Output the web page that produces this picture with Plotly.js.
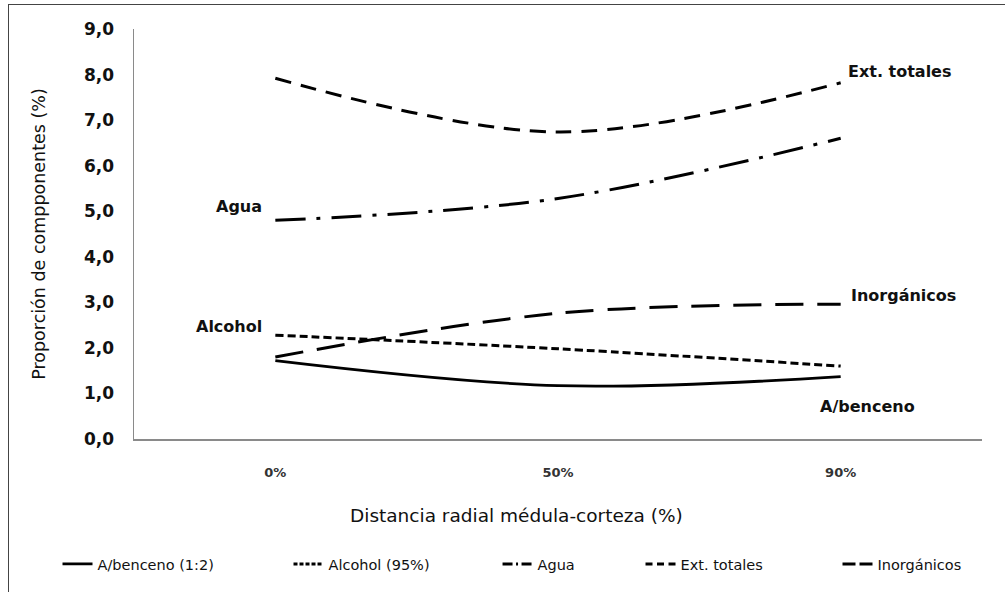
<!DOCTYPE html>
<html>
<head>
<meta charset="utf-8">
<script src="https://cdn.plot.ly/plotly-3.0.1.min.js"></script>
<style>
  html, body { margin: 0; padding: 0; background: #fff; }
  #wrap { position: relative; width: 1005px; height: 592px; overflow: hidden; }
  #chart { position: absolute; left: 0; top: 0; width: 1005px; height: 592px; }
  #frame { position: absolute; left: 8px; top: 4px; width: 1100px; height: 700px;
           border-left: 1.5px solid #444; border-top: 1.5px solid #444; pointer-events: none; }
</style>
</head>
<body>
<div id="wrap">
  <div id="chart"></div>
  <div id="frame"></div>
</div>
<script>
// ---- data ----
const categories = ["0%", "50%", "90%"];
const seriesNames = ["A/benceno (1:2)", "Alcohol (95%)", "Agua", "Ext. totales", "Inorgánicos"];
const aBenceno    = [1.72, 1.17, 1.37];
const alcohol     = [2.28, 1.98, 1.60];
const agua        = [4.80, 5.28, 6.60];
const extTotales  = [7.92, 6.74, 7.82];
const inorganicos = [1.80, 2.76, 2.96];
const labelTexts  = ["A/benceno", "Alcohol", "Agua", "Ext. totales", "Inorgánicos"];
const yTickVals   = [0, 1, 2, 3, 4, 5, 6, 7, 8, 9];
const xTitle = "Distancia radial médula-corteza (%)";
const yTitle = "Proporción de compponentes (%)";

// ---- styles ----
const values = [aBenceno, alcohol, agua, extTotales, inorganicos];
const dashes = ["solid", "8px,4px", "30px,11px,4px,11px", "16px,10px", "28px,14px"];
// legend swatches are only 30px long, so they use a compressed version of each pattern
const legendDashes = ["solid", "4px,2px", "10px,3.5px,2px,3.5px", "7px,4.5px", "13px,4px"];
const widths = [2.8, 3, 3, 3, 3];
const legendIds = ["legend", "legend2", "legend3", "legend4", "legend5"];
const legendX = [-0.0902, 0.1822, 0.4287, 0.5973, 0.8296];

const FONT = "'DejaVu Sans', Verdana, sans-serif";

const traces = values.map((v, i) => ({
  type: "scatter",
  mode: "lines",
  x: categories,
  y: v,
  name: seriesNames[i],
  showlegend: false,
  line: { color: "#000", width: widths[i], dash: dashes[i], shape: "spline", smoothing: 1 },
  hoverinfo: "skip"
}));
// legend entries (no data of their own)
const legendTraces = seriesNames.map((n, i) => ({
  type: "scatter",
  mode: "lines",
  x: [null], y: [null],
  name: n,
  legend: legendIds[i],
  showlegend: true,
  line: { color: "#000", width: widths[i], dash: legendDashes[i] },
  hoverinfo: "skip"
}));

// annotation anchors: [x, y, xanchor]
const annPos = [
  [1.92, 0.72, "left"],
  [-0.04, 2.46, "right"],
  [-0.04, 5.11, "right"],
  [2.02, 8.07, "left"],
  [2.03, 3.15, "left"]
];
const annotations = labelTexts.map((t, i) => ({
  text: t, x: annPos[i][0], y: annPos[i][1], xref: "x", yref: "y",
  xanchor: annPos[i][2], yanchor: "middle", showarrow: false,
  font: { family: FONT, size: 16, color: "#111", weight: "bold" }
}));
annotations.push({
  text: xTitle, xref: "paper", yref: "paper", x: 0.451, y: -0.186,
  xanchor: "center", yanchor: "middle", showarrow: false,
  font: { family: FONT, size: 18.5, color: "#111" }
});

const layout = {
  width: 1005, height: 592,
  margin: { l: 134, r: 23, t: 29, b: 149 },
  paper_bgcolor: "#fff", plot_bgcolor: "#fff",
  separators: ",.",
  font: { family: FONT, color: "#111" },
  showlegend: true,
  xaxis: {
    type: "category",
    range: [-0.5, 2.5],
    showline: true, linecolor: "#8a8a8a", linewidth: 1.5,
    showgrid: false, zeroline: false, ticks: "",
    ticklabelstandoff: 21,
    tickfont: { family: FONT, size: 13, color: "#333", weight: "bold" },
    fixedrange: true
  },
  yaxis: {
    range: [0, 9],
    tickvals: yTickVals, tickformat: ".1f",
    showline: true, linecolor: "#8a8a8a", linewidth: 1.5,
    showgrid: false, zeroline: false, ticks: "",
    ticklabelstandoff: 15,
    tickfont: { family: FONT, size: 17, color: "#111", weight: "bold" },
    title: { text: yTitle, standoff: 34,
             font: { family: FONT, size: 17.5, color: "#111" } },
    fixedrange: true
  },
  annotations: annotations
};
legendIds.forEach((id, i) => {
  layout[id] = {
    x: legendX[i], y: -0.305, xanchor: "left", yanchor: "middle",
    orientation: "h", bgcolor: "rgba(0,0,0,0)",
    font: { family: FONT, size: 14.5, color: "#111" },
    itemwidth: 30
  };
});

Plotly.newPlot("chart", traces.concat(legendTraces), layout, { staticPlot: true, displayModeBar: false });
</script>
</body>
</html>
